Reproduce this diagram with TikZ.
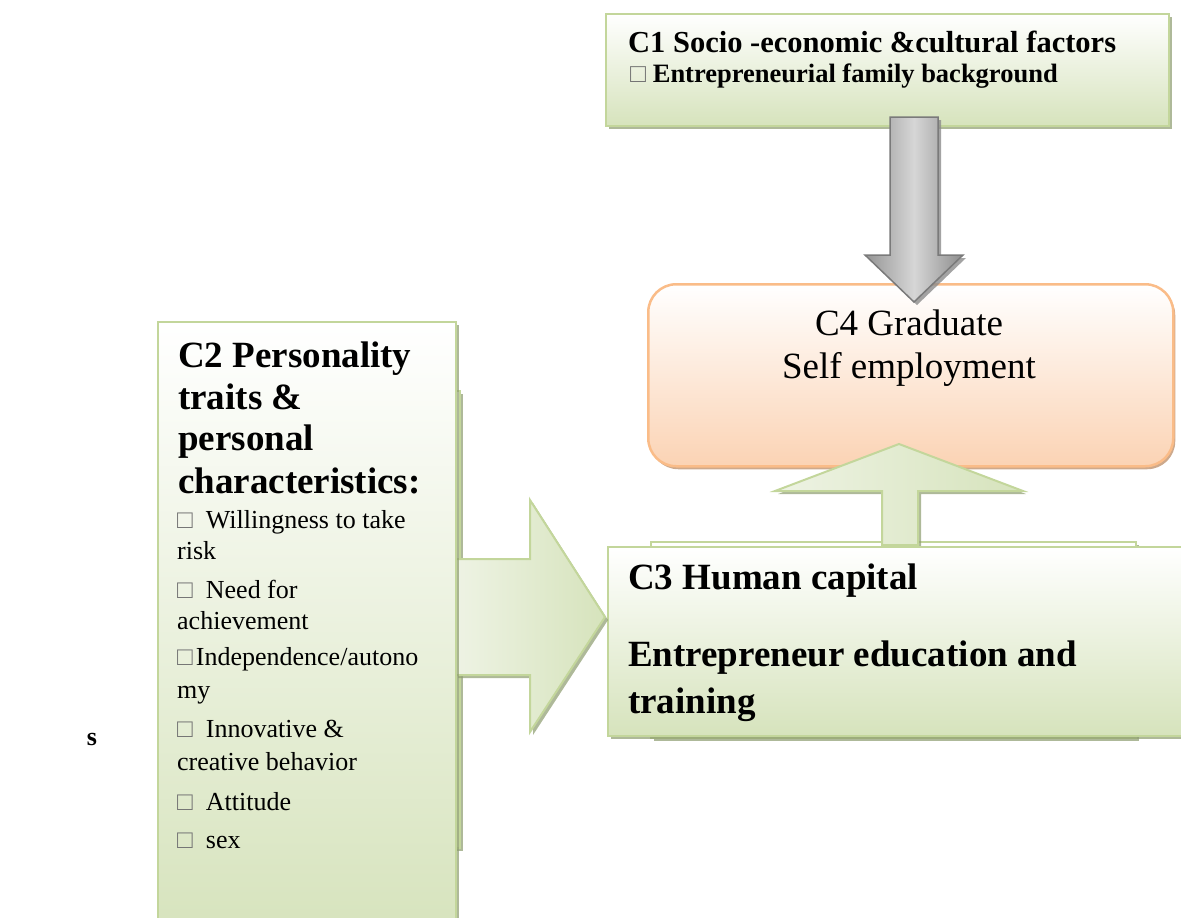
\documentclass[tikz,border=0pt]{standalone}
\usepackage{fontspec}
\setmainfont{Liberation Serif}
\usetikzlibrary{shadows}

\definecolor{greenline}{RGB}{195,214,155}
\definecolor{greenfill}{RGB}{214,227,188}
\definecolor{greenshadow}{RGB}{140,155,110}
\definecolor{arrowlight}{RGB}{238,243,228}
\definecolor{orangeline}{RGB}{250,188,136}
\definecolor{orangefill}{RGB}{251,211,180}
\definecolor{orangeshadow}{RGB}{200,160,128}

\newcommand{\tickbox}{{\color{black!55}□}}

\begin{document}
\begin{tikzpicture}[x=1pt,y=-1pt,
    greenbox/.style={draw=greenline, line width=2pt, top color=white, bottom color=greenfill,
      drop shadow={shadow xshift=3pt, shadow yshift=-3pt, fill=greenshadow, opacity=0.7},
      anchor=north west, inner sep=0pt},
    orangebox/.style={draw=orangeline, line width=2.5pt, top color=white, bottom color=orangefill,
      drop shadow={shadow xshift=2pt, shadow yshift=-3pt, fill=orangeshadow, opacity=0.9},
      anchor=north west, inner sep=0pt, rounded corners=28pt},
    greenarrow/.style={draw=greenline, line width=2pt, left color=arrowlight, right color=greenfill,
      drop shadow={shadow xshift=3pt, shadow yshift=-3pt, fill=greenshadow, opacity=0.7}},
    grayarrow/.style={draw=black!52, line width=1.5pt, left color=black!42, right color=black!45, middle color=black!16,
      drop shadow={shadow xshift=3pt, shadow yshift=-3pt, fill=black!45, opacity=0.8}},
    bigtext/.style={font=\fontsize{37}{44}\selectfont\bfseries, anchor=base west, inner sep=0pt},
    itemtext/.style={font=\fontsize{26}{31}\selectfont, anchor=base west, inner sep=0pt}]
  \useasboundingbox (0,0) rectangle (1181,918);
  \clip (0,0) rectangle (1181,918);

  % C1 上方方框
  \node[greenbox, minimum width=563pt, minimum height=112pt] (c1) at (605,13) {};
  \node[bigtext, font=\fontsize{30.5}{36}\selectfont\bfseries] (c1a) at (628,52) {C1 Socio -economic \&cultural factors};
  \node[bigtext, font=\fontsize{26.5}{31}\selectfont\bfseries] (c1b) at (630,82) {\tickbox\ Entrepreneurial family background};

  % C4 圆角方框
  \node[orangebox, minimum width=525pt, minimum height=182pt] (c4) at (647,283) {};
  \node[font=\fontsize{37}{44}\selectfont, anchor=base, inner sep=0pt] (c4a) at (909,335) {C4 Graduate};
  \node[font=\fontsize{37}{44}\selectfont, anchor=base, inner sep=0pt] (c4b) at (909,378) {Self employment};

  % 灰色向下箭头
  \path[grayarrow] (890,117) -- (938,117) -- (938,255) -- (963,255) -- (914,302) -- (865,255) -- (890,255) -- cycle;

  % C3 两层方框, 中间夹着向上箭头
  \node[greenbox, minimum width=485pt, minimum height=196pt] (c3back) at (650,541) {};
  \path[greenarrow] (882,545) -- (882,491) -- (775,491) -- (899,444) -- (1023,491) -- (918,491) -- (918,545) -- cycle;
  \node[greenbox, minimum width=590pt, minimum height=189pt] (c3) at (607,546) {};
  \node[bigtext] (c3a) at (628,589) {C3 Human capital};
  \node[bigtext] (c3b) at (628,666) {Entrepreneur education and};
  \node[bigtext] (c3c) at (628,713) {training};

  % C2 左侧方框和向右箭头
  \node[greenbox, minimum width=294pt, minimum height=457pt] (c2back) at (165,390) {};
  \path[greenarrow] (455,559) -- (530,559) -- (530,500) -- (605,617) -- (530,732) -- (530,675) -- (455,675) -- cycle;
  \node[greenbox, minimum width=298pt, minimum height=620pt] (c2) at (157,321) {};
  \foreach \y/\t [count=\i] in {367/C2 Personality, 409/traits \&, 450/personal, 493/characteristics:}
    \node[bigtext] (c2t\i) at (178,\y) {\t};
  \foreach \y/\t [count=\i] in {528/{\tickbox\hspace{13pt}Willingness to take}, 559/risk,
      598/{\tickbox\hspace{13pt}Need for}, 629/achievement,
      665/{\tickbox\hspace{3pt}Independence/autono}, 698/my,
      737/{\tickbox\hspace{13pt}Innovative \&}, 770/creative behavior,
      810/{\tickbox\hspace{13pt}Attitude}, 848/{\tickbox\hspace{13pt}sex}}
    \node[itemtext] (c2l\i) at (177,\y) {\t};

  \node[itemtext, font=\fontsize{26}{31}\selectfont\bfseries, anchor=base] (s) at (92,745) {s}; % 左边单独的 s
\end{tikzpicture}
\end{document}
